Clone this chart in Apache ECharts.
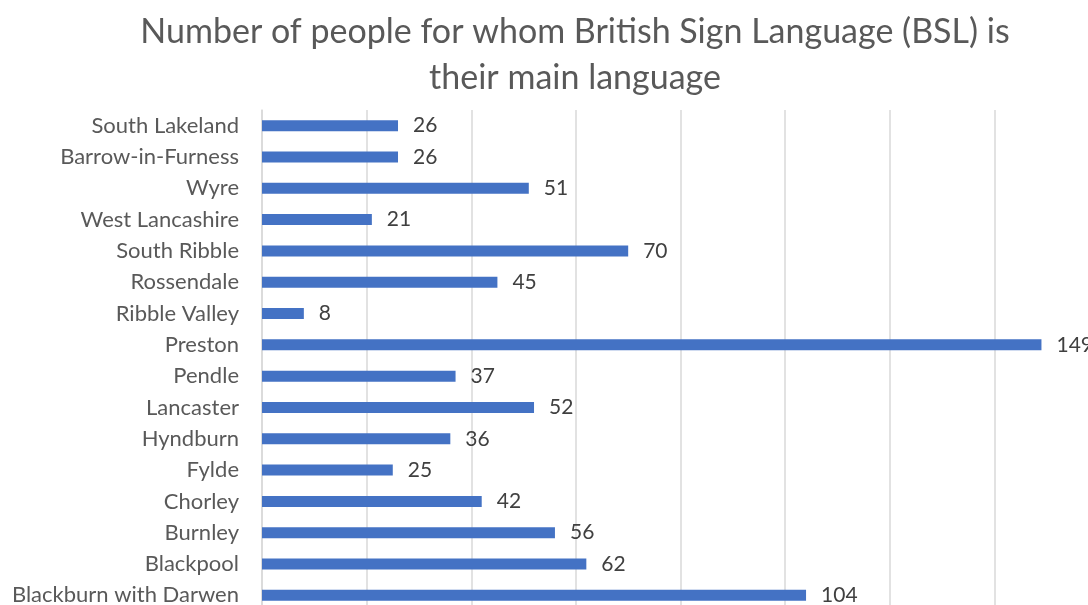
<!DOCTYPE html>
<html>
<head>
<meta charset="utf-8">
<script src="https://cdn.jsdelivr.net/npm/echarts@6/dist/echarts.min.js"></script>
<style>
  html, body { margin: 0; padding: 0; background: #fff; }
  #chart { width: 1088px; height: 605px; }
</style>
</head>
<body>
<div id="chart"></div>
<script>
// Districts listed bottom to top along the category axis
const districts = [
  'Blackburn with Darwen', 'Blackpool', 'Burnley', 'Chorley', 'Fylde',
  'Hyndburn', 'Lancaster', 'Pendle', 'Preston', 'Ribble Valley',
  'Rossendale', 'South Ribble', 'West Lancashire', 'Wyre',
  'Barrow-in-Furness', 'South Lakeland'
];
const bslSpeakers = [104, 62, 56, 42, 25, 36, 52, 37, 149, 8, 45, 70, 21, 51, 26, 26];

const FONT = 'Lato, "Open Sans", sans-serif';
const chart = echarts.init(document.getElementById('chart'), null, { renderer: 'canvas' });

chart.setOption({
  animation: false,
  title: {
    text: 'Number of people for whom British Sign Language (BSL) is\ntheir main language',
    left: 570,
    textAlign: 'center',
    top: 4,
    textStyle: {
      fontFamily: FONT,
      fontSize: 34,
      fontWeight: 'normal',
      color: '#595959',
      lineHeight: 46
    }
  },
  grid: {
    left: 262,
    top: 110,
    width: 837,
    height: 501,
    outerBoundsMode: 'none',
    containLabel: false
  },
  xAxis: {
    type: 'value',
    min: 0,
    max: 160,
    interval: 20,
    axisLabel: { show: false },
    axisLine: { show: false },
    axisTick: { show: false },
    splitLine: { show: true, lineStyle: { color: '#d9d9d9', width: 1.5 } }
  },
  yAxis: {
    type: 'category',
    data: districts,
    axisLine: { show: true, lineStyle: { color: '#d9d9d9', width: 1.5 } },
    axisTick: { show: false },
    axisLabel: {
      margin: 23,
      fontFamily: FONT,
      fontSize: 22,
      color: '#595959'
    }
  },
  series: [{
    type: 'bar',
    data: bslSpeakers,
    barWidth: 11,
    itemStyle: { color: '#4472C4' },
    label: {
      show: true,
      position: 'right',
      distance: 15,
      fontFamily: FONT,
      fontSize: 21,
      color: '#404040'
    }
  }]
});
</script>
</body>
</html>
